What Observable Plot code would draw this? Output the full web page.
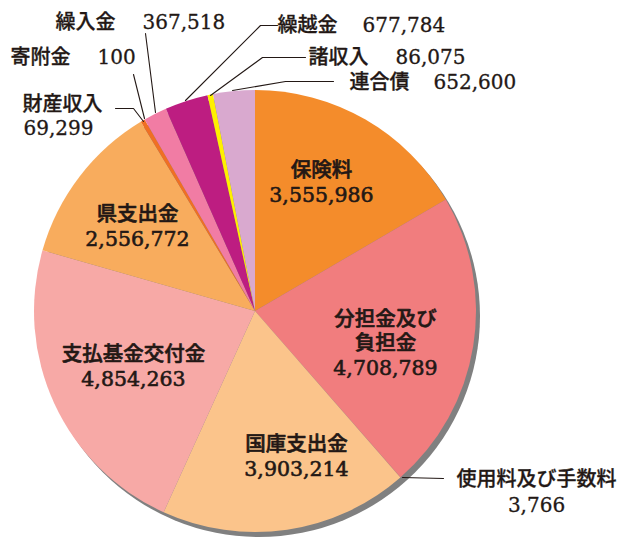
<!DOCTYPE html>
<html><head><meta charset="utf-8">
<script src="https://cdn.jsdelivr.net/npm/d3@7"></script>
<script src="https://cdn.jsdelivr.net/npm/@observablehq/plot@0.6"></script>
<style>body{margin:0;background:#fff}</style>
</head><body><div id="chart"></div>
<script>
// ---- data ----
const categories = ["保険料","分担金及び負担金","使用料及び手数料","国庫支出金","支払基金交付金","県支出金","財産収入","寄附金","繰入金","繰越金","諸収入","連合債"];
const values = [3555986,4708789,3766,3903214,4854263,2556772,69299,100,367518,677784,86075,652600];
const colors = ["#f48c2b","#f17d7e","#f17d7e","#fbc48b","#f7a9a6","#f8ac5d","#f06f23","#f06f23","#f17ca4","#bd1d81","#fff000","#d9a9cf"];
// label text shown for each category (line breaks)
const labelNames = ["保険料","分担金及び\n負担金","使用料及び手数料","国庫支出金","支払基金交付金","県支出金","財産収入","寄附金","繰入金","繰越金","諸収入","連合債"];

// ---- layout (positions, not data) ----
const CX = 255, CY = 311, R = 221, SDX = 4, SDY = 5;
const insidePos = {0:[321,181],1:[385,342],3:[296,455],4:[133,365],5:[137,225]};
const outsideNamePos = {6:[22,104],7:[10,57],8:[55,22],9:[277,25],10:[308,57],11:[349,82]};
const outsideValuePos = {6:[23,128],7:[97,57],8:[142,22],9:[362,25],10:[395,57],11:[433,82]};
const centerLabelPos = {2:[536,490]};
const leaders = [
  [[115,108],[133,108],[143,121]],
  [[133,74],[144,118]],
  [[145,33],[155,112]],
  [[277,25],[260,25],[185,100]],
  [[305,57],[262,57],[210,95]],
  [[333,81],[285,81],[232,90]],
  [[402,477],[443,478]]
];

const fmt = d3.format(",");
const rows = categories.map((c,i)=>({name:c, label:labelNames[i], value:values[i], color:colors[i], i}));
const arcs = d3.pie().sort(null).value(d=>d.value)(rows);

const pieMark = () => {
  const g = d3.create("svg:g");
  g.append("circle").attr("cx", CX+SDX).attr("cy", CY+SDY).attr("r", R).attr("fill", "#808080");
  const arc = d3.arc().innerRadius(0).outerRadius(R);
  g.append("g").attr("transform", `translate(${CX},${CY})`)
    .selectAll("path").data(arcs).join("path")
    .attr("d", arc).attr("fill", d=>d.data.color);
  return g.node();
};

const inside = rows.filter(r=>insidePos[r.i]).map(r=>({x:insidePos[r.i][0], y:insidePos[r.i][1], text:r.label+"\n"+fmt(r.value)}));
const outNames = rows.filter(r=>outsideNamePos[r.i]).map(r=>({x:outsideNamePos[r.i][0], y:outsideNamePos[r.i][1], text:r.label}));
const outVals = rows.filter(r=>outsideValuePos[r.i]).map(r=>({x:outsideValuePos[r.i][0], y:outsideValuePos[r.i][1], text:fmt(r.value)}));
const centerLbl = rows.filter(r=>centerLabelPos[r.i]).map(r=>({x:centerLabelPos[r.i][0], y:centerLabelPos[r.i][1], text:r.label+"\n"+fmt(r.value)}));
const leaderPts = leaders.flatMap((pts,k)=>pts.map(([x,y])=>({id:k,x,y})));

const FONT = "'DejaVu Serif','Noto Sans CJK JP',serif";
const INK = "#231815";
const chart = Plot.plot({
  width: 623, height: 539, margin: 0,
  x: {type: "identity", axis: null},
  y: {type: "identity", axis: null},
  style: {fontFamily: FONT, background: "#fff", color: INK},
  marks: [
    pieMark,
    Plot.line(leaderPts, {x:"x", y:"y", z:"id", stroke:INK, strokeWidth:1.1}),
    Plot.text(inside, {x:"x", y:"y", text:"text", fontSize:20.5, fontWeight:500, lineHeight:1.2, fill:INK, stroke:INK, strokeWidth:0.6}),
    Plot.text(outNames, {x:"x", y:"y", text:"text", fontSize:20, fontWeight:500, textAnchor:"start", fill:INK, stroke:INK, strokeWidth:0.3}),
    Plot.text(outVals, {x:"x", y:"y", text:"text", fontSize:20, textAnchor:"start", fill:INK, stroke:INK, strokeWidth:0.3}),
    Plot.text(centerLbl, {x:"x", y:"y", text:"text", fontSize:20, fontWeight:500, lineHeight:1.3, fill:INK, stroke:INK, strokeWidth:0.3})
  ]
});
document.getElementById("chart").appendChild(chart);
</script>
</body></html>
